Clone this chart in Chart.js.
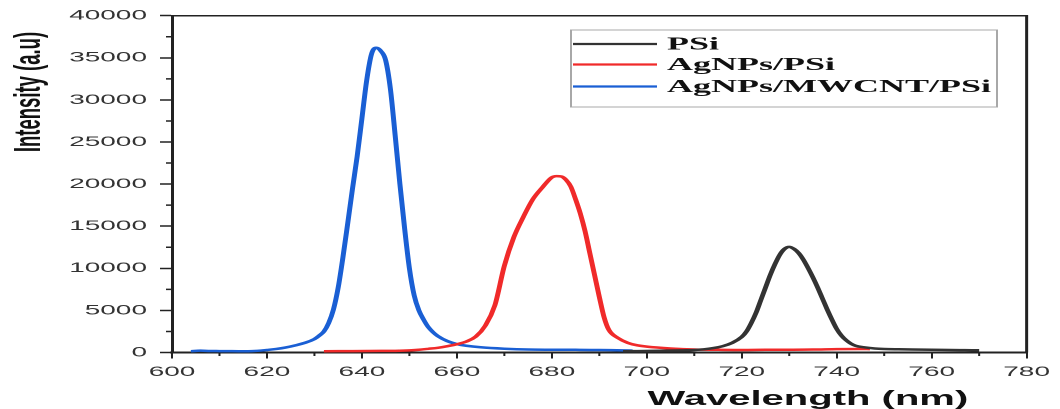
<!DOCTYPE html>
<html>
<head>
<meta charset="utf-8">
<script src="https://cdn.jsdelivr.net/npm/chart.js@4.4.1/dist/chart.umd.min.js"></script>
<style>
  html, body { margin: 0; padding: 0; background: #fff; overflow: hidden; }
  #wrap { width: 530px; height: 409px; transform: scaleX(2); transform-origin: 0 0; }
</style>
</head>
<body>
<div id="wrap"><canvas id="c" width="530" height="409"></canvas></div>
<script>
// ---------- data ----------
const seriesLabels = ['PSi', 'AgNPs/PSi', 'AgNPs/MWCNT/PSi'];

const psiX = [695, 698, 701, 704, 707, 710, 712, 714, 716, 718, 720, 721, 722, 723, 724, 725, 726, 727, 728, 729, 730, 731, 732, 733, 734, 735, 736, 737, 738, 739, 740, 741, 742, 743, 744, 746, 748, 750, 753, 756, 760, 764, 767, 770];
const psiY = [150, 170, 200, 220, 250, 300, 380, 520, 750, 1150, 1850, 2500, 3500, 4700, 6200, 7700, 9200, 10500, 11600, 12300, 12550, 12300, 11800, 11000, 10000, 8900, 7700, 6400, 5100, 3900, 2800, 2000, 1450, 1050, 800, 600, 480, 420, 380, 350, 320, 300, 280, 260];

const agX = [632, 635, 638, 641, 644, 647, 650, 652, 654, 656, 658, 660, 662, 664, 666, 668, 670, 672, 674, 676, 678, 680, 681, 682, 683, 684, 685, 686, 687, 688, 689, 690, 691, 692, 694, 696, 698, 700, 705, 710, 715, 720, 725, 730, 735, 740, 745, 747];
const agY = [150, 160, 170, 180, 190, 200, 250, 330, 440, 560, 750, 980, 1300, 1900, 3200, 5600, 10300, 13700, 16100, 18200, 19600, 20800, 20950, 20900, 20500, 19700, 18200, 16500, 14400, 11800, 9200, 6600, 4200, 2700, 1700, 1150, 850, 700, 480, 350, 320, 300, 320, 330, 350, 400, 420, 400];

const mwX = [604, 606, 608, 610, 612, 614, 616, 618, 620, 622, 624, 626, 628, 630, 631, 632, 633, 634, 635, 636, 637, 638, 639, 640, 641, 642, 643, 644, 645, 646, 647, 648, 649, 650, 651, 652, 653, 654, 655, 656, 658, 660, 662, 665, 670, 675, 680, 685, 690, 695, 697];
const mwY = [150, 220, 180, 170, 160, 150, 150, 200, 300, 420, 600, 850, 1150, 1600, 2000, 2500, 3500, 5100, 7700, 11300, 15300, 19400, 23300, 27800, 32300, 35400, 36200, 35800, 34700, 31300, 25800, 20000, 14700, 10000, 6800, 5000, 3900, 3000, 2400, 1950, 1350, 1000, 800, 620, 450, 350, 330, 320, 300, 250, 220];

const xTickValues = [600, 620, 640, 660, 680, 700, 720, 740, 760, 780];
const xMinorValues = [610, 630, 650, 670, 690, 710, 730, 750, 770];
const yTickValues = [0, 5000, 10000, 15000, 20000, 25000, 30000, 35000, 40000];
const yMinorValues = [2500, 7500, 12500, 17500, 22500, 27500, 32500, 37500];

const xTitle = 'Wavelength (nm)';
const yTitle = 'Intensity (a.u)';

const colors = ['#333333', '#f02a2a', '#1a5fd4'];

function pts(xs, ys) { return xs.map((x, i) => ({ x: x, y: ys[i] })); }

// ---------- plugins ----------
const decor = {
  id: 'decor',
  afterDraw(chart) {
    const { ctx, chartArea: a, scales: { x, y } } = chart;
    ctx.save();
    // frame top & right
    ctx.strokeStyle = '#222';
    ctx.lineWidth = 1.5;
    ctx.beginPath();
    ctx.moveTo(a.left, a.top);
    ctx.lineTo(a.right, a.top);
    ctx.lineTo(a.right, a.bottom);
    ctx.stroke();
    // minor ticks
    ctx.lineWidth = 1;
    ctx.beginPath();
    xMinorValues.forEach(v => {
      const px = x.getPixelForValue(v);
      ctx.moveTo(px, a.bottom);
      ctx.lineTo(px, a.bottom + 3.5);
    });
    ctx.stroke();
    ctx.lineWidth = 1.5;
    ctx.beginPath();
    yMinorValues.forEach(v => {
      const py = y.getPixelForValue(v);
      ctx.moveTo(a.left - 3, py);
      ctx.lineTo(a.left, py);
    });
    ctx.stroke();

    // axis titles
    ctx.fillStyle = '#111';
    ctx.font = 'bold 20px "Liberation Sans", Arial, sans-serif';
    ctx.textAlign = 'center';
    ctx.textBaseline = 'alphabetic';
    ctx.fillText(xTitle, a.left + (a.right - a.left) * 0.744, 405);

    ctx.save();
    ctx.translate(19.8, 92);
    ctx.rotate(-Math.PI / 2);
    ctx.font = 'bold 18.5px "Liberation Sans", Arial, sans-serif';
    ctx.fillText(yTitle, 0, 0);
    ctx.restore();

    // legend
    const bx = 285.5, by = 30, bw = 213, bh = 77;
    ctx.strokeStyle = '#a8a8a8';
    ctx.lineWidth = 1;
    ctx.strokeRect(bx, by, bw, bh);
    const rows = [44, 64.5, 86.5];
    ctx.font = 'bold 18px "Liberation Serif", "Times New Roman", serif';
    ctx.textAlign = 'left';
    ctx.textBaseline = 'middle';
    chart.data.datasets.forEach((ds, i) => {
      ctx.strokeStyle = ds.borderColor;
      ctx.lineWidth = 2.2;
      ctx.beginPath();
      ctx.moveTo(bx + 1, rows[i]);
      ctx.lineTo(bx + 43, rows[i]);
      ctx.stroke();
      ctx.fillStyle = '#111';
      ctx.fillText(ds.label, 333.5, rows[i] + 1);
    });
    ctx.restore();
  }
};

// ---------- chart ----------
Chart.defaults.font.family = '"Liberation Sans", Arial, sans-serif';

new Chart(document.getElementById('c'), {
  type: 'line',
  data: {
    datasets: [
      { label: seriesLabels[0], data: pts(psiX, psiY), borderColor: colors[0], borderWidth: 2.5 },
      { label: seriesLabels[1], data: pts(agX, agY), borderColor: colors[1], borderWidth: 2.5 },
      { label: seriesLabels[2], data: pts(mwX, mwY), borderColor: colors[2], borderWidth: 2.5 }
    ]
  },
  options: {
    responsive: false,
    devicePixelRatio: 2,
    animation: false,
    elements: {
      point: { radius: 0 },
      line: { cubicInterpolationMode: 'monotone', fill: false }
    },
    layout: { padding: { top: 15.7, right: 13.5, left: 0, bottom: 0 } },
    plugins: { legend: { display: false }, tooltip: { enabled: false } },
    scales: {
      x: {
        type: 'linear',
        min: 600, max: 780,
        afterBuildTicks: s => { s.ticks = xTickValues.map(v => ({ value: v })); },
        afterFit: s => { s.height = 56.5; },
        border: { display: true, color: '#222', width: 2 },
        grid: { drawOnChartArea: false, drawTicks: true, tickLength: 6, tickWidth: 1, tickColor: '#222' },
        ticks: { color: '#333', font: { size: 14 }, padding: 5, maxRotation: 0, autoSkip: false, callback: v => String(v) }
      },
      y: {
        type: 'linear',
        min: 0, max: 40000,
        afterBuildTicks: s => { s.ticks = yTickValues.map(v => ({ value: v })); },
        afterFit: s => { s.width = 86; },
        border: { display: true, color: '#222', width: 1.5 },
        grid: { drawOnChartArea: false, drawTicks: true, tickLength: 6, tickWidth: 1.5, tickColor: '#222' },
        ticks: { color: '#333', font: { size: 14 }, padding: 6.5, autoSkip: false, callback: v => String(v) }
      }
    }
  },
  plugins: [decor]
});
</script>
</body>
</html>
